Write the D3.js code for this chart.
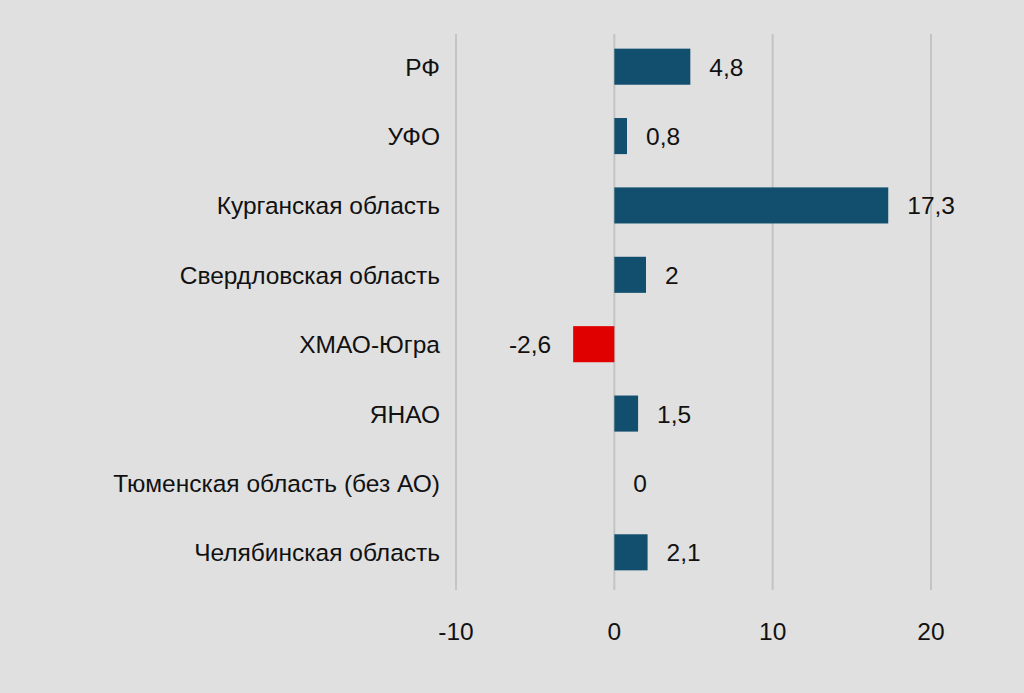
<!DOCTYPE html>
<html><head><meta charset="utf-8">
<script src="https://cdn.jsdelivr.net/npm/d3@7"></script>
<style>
body{margin:0;background:#e0e0e0;}
text{font-family:"Liberation Sans",Arial,sans-serif;}
</style></head>
<body><svg id="chart" width="1024" height="693"></svg>
<script>
var categories = ["РФ","УФО","Курганская область","Свердловская область","ХМАО-Югра","ЯНАО","Тюменская область (без АО)","Челябинская область"];
var values = [4.8, 0.8, 17.3, 2, -2.6, 1.5, 0, 2.1];
var ticks = [-10, 0, 10, 20];

var svg = d3.select("#chart");
svg.append("rect").attr("width",1024).attr("height",693).attr("fill","#e0e0e0");

var x = d3.scaleLinear().domain([-10,20]).range([456,931]);
var y = d3.scaleBand().domain(categories).range([32,587]).paddingInner(0.48).paddingOuter(0.24);

// grid
svg.selectAll(".grid").data(ticks).enter().append("line")
  .attr("x1",d=>x(d)).attr("x2",d=>x(d)).attr("y1",34).attr("y2",590)
  .attr("stroke","#c4c4c4").attr("stroke-width",2);

svg.selectAll(".tick").data(ticks).enter().append("text")
  .attr("x",d=>x(d)).attr("y",640).attr("text-anchor","middle")
  .attr("font-size",24.5).attr("fill","#111").text(d=>d);

svg.selectAll(".bar").data(values).enter().append("rect")
  .attr("x",d=>x(Math.min(0,d))).attr("width",d=>Math.abs(x(d)-x(0)))
  .attr("y",(d,i)=>y(categories[i])).attr("height",y.bandwidth())
  .attr("fill",d=>d<0?"#e00000":"#124f6e");

var fmt = d=>String(d).replace(".",",");
svg.selectAll(".val").data(values).enter().append("text")
  .attr("x",d=>d<0?x(d)-22:x(d)+19)
  .attr("y",(d,i)=>y(categories[i])+y.bandwidth()/2+9)
  .attr("text-anchor",d=>d<0?"end":"start")
  .attr("font-size",24.5).attr("fill","#111").text(fmt);

svg.selectAll(".cat").data(categories).enter().append("text")
  .attr("x",440).attr("y",d=>y(d)+y.bandwidth()/2+9)
  .attr("text-anchor","end").attr("font-size",24.5).attr("fill","#111").text(d=>d);
</script></body></html>
